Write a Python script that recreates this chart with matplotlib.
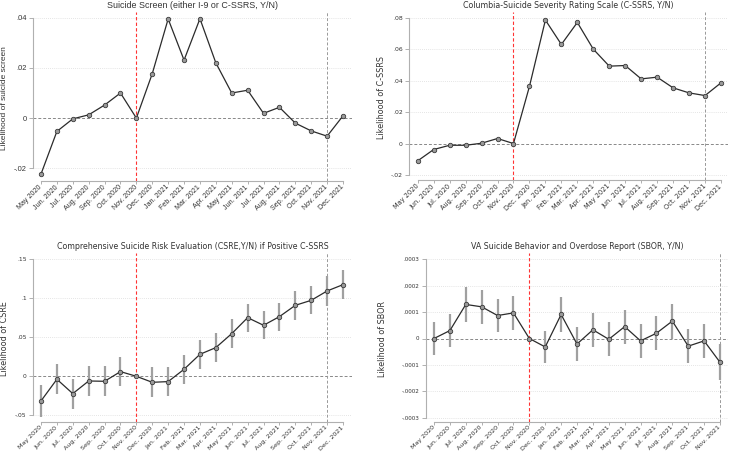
import matplotlib
matplotlib.use("Agg")
import matplotlib.pyplot as plt
import numpy as np

W, H = 730, 453

months_full = ["May 2020", "Jun. 2020", "Jul. 2020", "Aug. 2020", "Sep. 2020", "Oct. 2020",
               "Nov. 2020", "Dec. 2020", "Jan. 2021", "Feb. 2021", "Mar. 2021", "Apr. 2021",
               "May 2021", "Jun. 2021", "Jul. 2021", "Aug. 2021", "Sep. 2021", "Oct. 2021",
               "Nov. 2021", "Dec. 2021"]
months_sbor = months_full[:19]

screen = [-0.0223, -0.0053, -0.0003, 0.0013, 0.0052, 0.0100, 0.0, 0.0177, 0.0395, 0.0231,
          0.0396, 0.0220, 0.0100, 0.0111, 0.0019, 0.0043, -0.0020, -0.0051, -0.0072, 0.0009]

cssrs = [-0.0110, -0.0038, -0.0011, -0.0011, 0.0002, 0.0032, 0.0, 0.0363, 0.0785, 0.0630,
         0.0770, 0.0600, 0.0492, 0.0496, 0.0411, 0.0422, 0.0354, 0.0322, 0.0305, 0.0386]

csre = [-0.0316, -0.0038, -0.0222, -0.0060, -0.0064, 0.0060, 0.0, -0.0077, -0.0068, 0.0090,
        0.0282, 0.0368, 0.0547, 0.0752, 0.0654, 0.0765, 0.0910, 0.0974, 0.1094, 0.1175]
csre_ci = [0.0200, 0.0192, 0.0192, 0.0192, 0.0192, 0.0190, 0.0, 0.0190, 0.0188, 0.0188,
           0.0185, 0.0185, 0.0185, 0.0180, 0.0182, 0.0180, 0.0185, 0.0180, 0.0190, 0.0190]

sbor = [0.0000, 0.000030, 0.000129, 0.000120, 0.000087, 0.000097, 0.0, -0.000032, 0.000091,
        -0.000021, 0.000033, -0.000003, 0.000045, -0.000009, 0.000020, 0.000066, -0.000029,
        -0.000009, -0.000090]
sbor_ci = [0.000064, 0.000064, 0.000065, 0.000064, 0.000064, 0.000064, 0.0, 0.000062, 0.000065,
           0.000064, 0.000064, 0.000064, 0.000064, 0.000064, 0.000065, 0.000066, 0.000064,
           0.000065, 0.000068]

fig = plt.figure(figsize=(W / 100, H / 100), dpi=100)

TXT = "#333333"
AX = "#b0b0b0"


def make_axes(px_left, px_right, px_top, px_bot, x0px, x1px, n_last, ytick_vals, ytick_px,
              yticks, ytlabels, xlabels, family, fs_ytick, fs_xtick, fs_lab, fs_title,
              ylabel, ylabel_x, title, title_y, redx, grayx, series, ci=None):
    ax = fig.add_axes([px_left / W, 1 - px_bot / H, (px_right - px_left) / W, (px_bot - px_top) / H])
    per = (x1px - x0px) / n_last
    xmin = -(x0px - px_left) / per
    xmax = n_last + (px_right - x1px) / per
    ax.set_xlim(xmin, xmax)
    (v1, v2), (p1, p2) = ytick_vals, ytick_px
    slope = (v2 - v1) / (p2 - p1)
    ymax = v1 + (px_top - p1) * slope
    ymin = v1 + (px_bot - p1) * slope
    ax.set_ylim(ymin, ymax)

    for s in ["top", "right"]:
        ax.spines[s].set_visible(False)
    for s in ["left", "bottom"]:
        ax.spines[s].set_color(AX)
        ax.spines[s].set_linewidth(0.8)
    ax.spines["bottom"].set_bounds(0, n_last)
    ax.spines["left"].set_bounds(yticks[0], yticks[-1])

    ax.set_yticks(yticks)
    ax.set_yticklabels(ytlabels, family=family, fontsize=fs_ytick, color=TXT)
    ax.set_xticks(range(len(xlabels)))
    ax.set_xticklabels(xlabels, rotation=45, ha="right", va="center", rotation_mode="anchor",
                       family=family, fontsize=fs_xtick, color=TXT)
    ax.tick_params(axis="y", length=3, width=0.7, color=AX, pad=1.5)
    ax.tick_params(axis="x", length=2.5, width=0.7, color=AX, pad=1.2)
    for yv in yticks:
        if yv != 0:
            ax.axhline(yv, color="#dcdcdc", lw=0.6, ls=(0, (1, 1.5)), zorder=0)
    ax.axhline(0, color="#888888", lw=0.7, ls=(0, (3, 2)), zorder=1)
    ax.axvline(redx, color="#ff3333", lw=0.8, ls=(0, (3, 2)), zorder=1)
    ax.axvline(grayx, color="#999999", lw=0.7, ls=(0, (3, 2)), zorder=1)

    x = np.arange(len(series))
    if ci is not None:
        for xi, yi, ci_i in zip(x, series, ci):
            if ci_i > 0:
                ax.plot([xi, xi], [yi - ci_i, yi + ci_i], color="#a0a0a0", lw=1.6, zorder=2,
                        solid_capstyle="butt")
    ax.plot(x, series, color="#2b2b2b", lw=0.9, zorder=3, marker="o", markersize=3.2,
            markerfacecolor="#9a9a9a", markeredgecolor="#3a3a3a", markeredgewidth=0.6)

    fig.text(ylabel_x / W, 1 - ((px_top + px_bot) / 2 + 1.5) / H, ylabel, rotation=90,
             ha="center", va="center", family=family, fontsize=fs_lab, color=TXT)
    fig.text((px_left + px_right) / 2 / W, 1 - title_y / H, title, ha="center", va="center",
             family=family, fontsize=fs_title, color=TXT)
    return ax


# Panel 1
make_axes(33, 352, 12, 181, 41, 343, 19, (0.04, -0.02), (17.7, 168.3),
          [-0.02, 0, 0.02, 0.04], ["-.02", "0", ".02", ".04"], months_full,
          "Liberation Sans", 5.4, 5.1, 6.0, 6.4, "Likelihood of suicide screen", 5,
          "Suicide Screen (either I-9 or C-SSRS, Y/N)", 5.8, 6, 18, screen)

# Panel 2
make_axes(409, 728, 12, 180, 417.7, 721, 19, (0.08, -0.02), (17.7, 175),
          [-0.02, 0, 0.02, 0.04, 0.06, 0.08], ["-.02", "0", ".02", ".04", ".06", ".08"],
          months_full, "DejaVu Sans", 4.4, 4.8, 5.75, 5.7, "Likelihood of C-SSRS", 381,
          "Columbia-Suicide Severity Rating Scale (C-SSRS, Y/N)", 5.8, 6, 18, cssrs)

# Panel 3
make_axes(33, 352, 253, 421.5, 41, 343, 19, (0.15, -0.05), (259.3, 415.3),
          [-0.05, 0, 0.05, 0.1, 0.15], ["-.05", "0", ".05", ".1", ".15"],
          months_full, "DejaVu Sans", 4.3, 4.6, 5.75, 5.65, "Likelihood of CSRE", 4.5,
          "Comprehensive Suicide Risk Evaluation (CSRE,Y/N) if Positive C-SSRS", 246.7,
          6, 18, csre, csre_ci)

# Panel 4
make_axes(425.7, 728, 253, 421.5, 434, 720, 18, (0.0003, -0.0003), (259.3, 417.7),
          [-0.0003, -0.0002, -0.0001, 0, 0.0001, 0.0002, 0.0003],
          ["-.0003", "-.0002", "-.0001", "0", ".0001", ".0002", ".0003"],
          months_sbor, "DejaVu Sans", 4.1, 4.6, 5.75, 5.7, "Likelihood of SBOR", 382.5,
          "VA Suicide Behavior and Overdose Report (SBOR, Y/N)", 246.7, 6, 18, sbor, sbor_ci)

fig.savefig("out.png", dpi=100)
